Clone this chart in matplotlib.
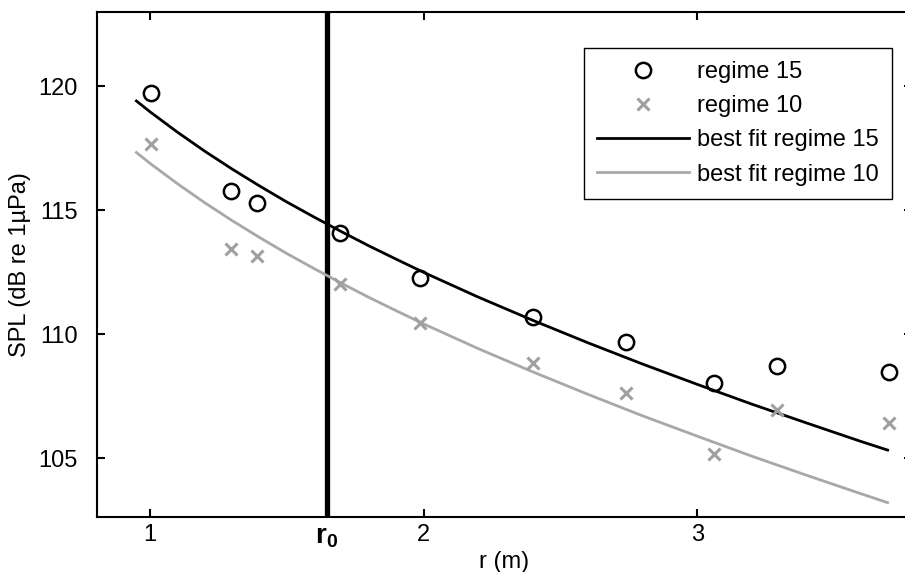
import numpy as np
import matplotlib
matplotlib.use('Agg')
import matplotlib.pyplot as plt

plt.rcParams['font.family'] = ['Liberation Sans', 'DejaVu Sans']
plt.rcParams['mathtext.fontset'] = 'custom'
plt.rcParams['mathtext.bf'] = 'Liberation Sans:bold'
plt.rcParams['mathtext.rm'] = 'Liberation Sans'

# measured points
r_pts = [1.004, 1.296, 1.392, 1.694, 1.985, 2.40, 2.74, 3.06, 3.29, 3.70]
spl_15 = [119.73, 115.79, 115.28, 114.07, 112.26, 110.68, 109.69, 108.04, 108.73, 108.49]
spl_10 = [117.68, 113.44, 113.16, 112.03, 110.44, 108.85, 107.64, 105.16, 106.92, 106.43]

# best fit curves
fit_r = [0.95, 1.0, 1.1, 1.2, 1.3, 1.4, 1.5, 1.6, 1.7, 1.8, 1.9, 2.0,
         2.2, 2.4, 2.6, 2.8, 3.0, 3.2, 3.4, 3.6, 3.695]
fit_15 = [119.41, 118.97, 118.15, 117.38, 116.66, 115.98, 115.33, 114.72,
          114.13, 113.56, 113.02, 112.49, 111.49, 110.55, 109.65, 108.79,
          107.97, 107.17, 106.41, 105.66, 105.32]
fit_10 = [117.33, 116.89, 116.07, 115.30, 114.58, 113.90, 113.25, 112.64,
          112.05, 111.48, 110.94, 110.41, 109.41, 108.47, 107.57, 106.70,
          105.88, 105.07, 104.30, 103.55, 103.20]

r0 = 1.645
xticks = [1, r0, 2, 3]
xticklabels = ['1', r'$\mathbf{r}_\mathbf{0}$', '2', '3']
yticks = [105, 110, 115, 120]

fs = 17
fig = plt.figure(figsize=(9.05, 5.72), dpi=100)
ax = fig.add_axes([97/905, 55/572, 815/905, 505/572])

ax.axvline(r0, color='black', lw=3.8, zorder=1)
ax.plot(r_pts, spl_15, 'o', mfc='none', mec='black', ms=11, mew=1.8, label='regime 15', zorder=3)
ax.plot(r_pts, spl_10, 'x', color='#a0a0a0', ms=8, mew=2.2, label='regime 10', zorder=3)
ax.plot(fit_r, fit_15, '-', color='black', lw=2, label='best fit regime 15', zorder=2)
ax.plot(fit_r, fit_10, '-', color='#a8a8a8', lw=2, label='best fit regime 10', zorder=2)

ax.set_xlim(0.806, 3.784)
ax.set_ylim(102.62, 123.0)
ax.set_xticks(xticks)
ax.set_xticklabels(xticklabels)
ax.set_yticks(yticks)
ax.tick_params(direction='in', length=6, width=1.5, top=True, right=True,
               labelsize=fs)
ax.tick_params(axis='x', pad=5)
ax.tick_params(axis='y', pad=14)
ax.get_xticklabels()[1].set_fontsize(20)
for s in ax.spines.values():
    s.set_linewidth(1.5)

ax.set_xlabel('r (m)', fontsize=fs, labelpad=1)
ax.set_ylabel('SPL (dB re 1µPa)', fontsize=fs, labelpad=5)

leg = ax.legend(loc='upper right', bbox_to_anchor=(0.9755, 0.929), fontsize=fs,
                fancybox=False, edgecolor='black', framealpha=1,
                handlelength=3.9, handletextpad=0.35, labelspacing=0.52,
                borderpad=0.55, borderaxespad=0)
leg.get_frame().set_linewidth(1.0)

fig.savefig('out.png', dpi=100)
